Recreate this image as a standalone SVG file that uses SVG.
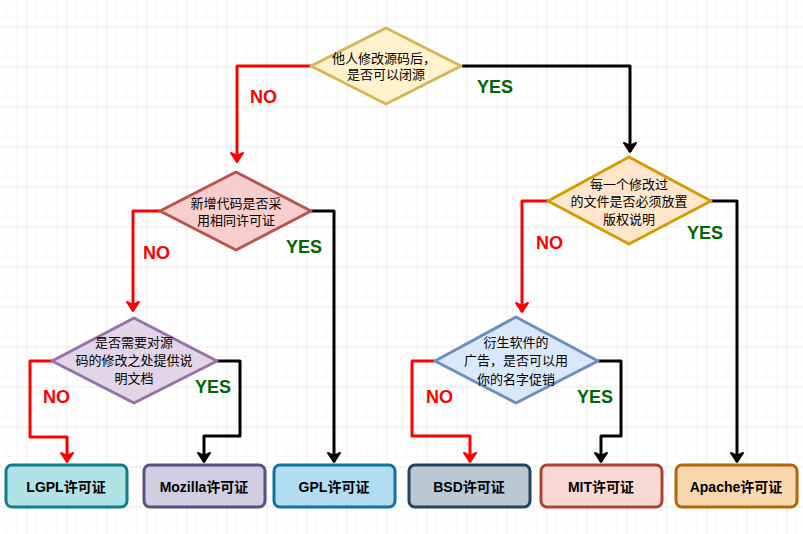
<svg xmlns="http://www.w3.org/2000/svg" width="803" height="534" viewBox="0 0 803 534">
<defs>
<pattern id="minor" width="10" height="10" patternUnits="userSpaceOnUse" x="6" y="6">
<path d="M10 0 L0 0 0 10" fill="none" stroke="#f3f3f3" stroke-width="1"/>
</pattern>
<pattern id="major" width="40" height="40" patternUnits="userSpaceOnUse" x="26.5" y="26.5">
<path d="M40 0 L0 0 0 40" fill="none" stroke="#dedede" stroke-width="1"/>
</pattern>
<marker id="arR" markerUnits="userSpaceOnUse" markerWidth="16" markerHeight="16" refX="0" refY="0" viewBox="-10 -8 12 16" orient="auto">
<path d="M-9,-6 L0,0 L-9,6 L-6,0 Z" fill="#ff0000" stroke="#ff0000" stroke-width="2" stroke-linejoin="round"/>
</marker>
<marker id="arK" markerUnits="userSpaceOnUse" markerWidth="16" markerHeight="16" refX="0" refY="0" viewBox="-10 -8 12 16" orient="auto">
<path d="M-9,-6 L0,0 L-9,6 L-6,0 Z" fill="#000000" stroke="#000000" stroke-width="2" stroke-linejoin="round"/>
</marker>
</defs>
<style>
.dt{font-family:"Liberation Sans","Noto Sans CJK SC",sans-serif;font-size:13px;fill:#000;text-anchor:middle}
.bt{font-family:"Liberation Sans","Noto Sans CJK SC",sans-serif;font-size:14px;font-weight:bold;fill:#000;text-anchor:middle}
.no{font-family:"Liberation Sans",sans-serif;font-size:18px;font-weight:bold;fill:#ff0000}
.yes{font-family:"Liberation Sans",sans-serif;font-size:18px;font-weight:bold;fill:#006600}
.dia{stroke-width:3;stroke-linejoin:round}
.box{stroke-width:3}
.cr{fill:none;stroke:#ff0000;stroke-width:3;stroke-linejoin:round;marker-end:url(#arR)}
.ck{fill:none;stroke:#000000;stroke-width:3;stroke-linejoin:round;marker-end:url(#arK)}
</style>
<rect width="803" height="534" fill="#ffffff"/>
<rect width="803" height="534" fill="url(#minor)"/>
<rect width="803" height="534" fill="url(#major)"/>

<g id="connectors">
<path class="cr" d="M311,66 L237,66 L237,162"/>
<path class="ck" d="M462,66 L630,66 L630,152"/>
<path class="cr" d="M160,211 L133,211 L133,311"/>
<path class="ck" d="M311,211 L334,211 L334,462"/>
<path class="cr" d="M52,361 L30,361 L30,437 L67,437 L67,462"/>
<path class="ck" d="M217,361 L240,361 L240,436 L204,436 L204,462"/>
<path class="cr" d="M548,201 L522,201 L522,312"/>
<path class="ck" d="M711,201 L737,201 L737,462"/>
<path class="cr" d="M435,361 L412,361 L412,436 L470,436 L470,462"/>
<path class="ck" d="M598,361 L621,361 L621,436 L601,436 L601,462"/>
<text class="no" x="250" y="103">NO</text>
<text class="yes" x="477" y="93">YES</text>
<text class="no" x="143" y="259">NO</text>
<text class="yes" x="286" y="253">YES</text>
<text class="no" x="43" y="403">NO</text>
<text class="yes" x="195" y="393">YES</text>
<text class="no" x="536" y="249">NO</text>
<text class="yes" x="687" y="239">YES</text>
<text class="no" x="426" y="403">NO</text>
<text class="yes" x="577" y="403">YES</text>
</g>

<g id="q1">
<polygon class="dia" points="386,28 461,66 386,104 311,66" fill="#fff2cc" stroke="#d6b656"/>
<text class="dt" x="384" y="63">他人修改源码后，</text>
<text class="dt" x="386" y="79">是否可以闭源</text>
</g>
<g id="q2">
<polygon class="dia" points="236,172 311,211 236,250 160,211" fill="#f8cecc" stroke="#b85450"/>
<text class="dt" x="236" y="208">新增代码是否采</text>
<text class="dt" x="236" y="225">用相同许可证</text>
</g>
<g id="q3">
<polygon class="dia" points="134,318 217,361 134,403 52,361" fill="#e1d5e7" stroke="#9673a6"/>
<text class="dt" x="134" y="347">是否需要对源</text>
<text class="dt" x="134" y="365">码的修改之处提供说</text>
<text class="dt" x="134" y="383">明文档</text>
</g>
<g id="q4">
<polygon class="dia" points="629,157 711,201 629,244 548,201" fill="#ffe6cc" stroke="#d79b00"/>
<text class="dt" x="629" y="189">每一个修改过</text>
<text class="dt" x="629" y="206">的文件是否必须放置</text>
<text class="dt" x="629" y="224">版权说明</text>
</g>
<g id="q5">
<polygon class="dia" points="516,317 598,361 516,403 435,361" fill="#dae8fc" stroke="#6c8ebf"/>
<text class="dt" x="516" y="347">衍生软件的</text>
<text class="dt" x="516" y="365">广告，是否可以用</text>
<text class="dt" x="516" y="384">你的名字促销</text>
</g>

<g id="lgpl">
<rect class="box" x="6" y="465" width="121" height="42" rx="6" fill="#b0e3e6" stroke="#0e8088"/>
<text class="bt" x="66" y="492">LGPL许可证</text>
</g>
<g id="mozilla">
<rect class="box" x="144" y="465" width="121" height="42" rx="6" fill="#d0cee2" stroke="#56517e"/>
<text class="bt" x="204" y="492">Mozilla许可证</text>
</g>
<g id="gpl">
<rect class="box" x="274" y="465" width="121" height="42" rx="6" fill="#b1ddf0" stroke="#10739e"/>
<text class="bt" x="334" y="492">GPL许可证</text>
</g>
<g id="bsd">
<rect class="box" x="409" y="465" width="121" height="42" rx="6" fill="#bac8d3" stroke="#23445d"/>
<text class="bt" x="469" y="492">BSD许可证</text>
</g>
<g id="mit">
<rect class="box" x="541" y="465" width="121" height="42" rx="6" fill="#fad9d5" stroke="#ae4132"/>
<text class="bt" x="601" y="492">MIT许可证</text>
</g>
<g id="apache">
<rect class="box" x="676" y="465" width="121" height="42" rx="6" fill="#fad7ac" stroke="#b46504"/>
<text class="bt" x="736" y="492">Apache许可证</text>
</g>
</svg>
